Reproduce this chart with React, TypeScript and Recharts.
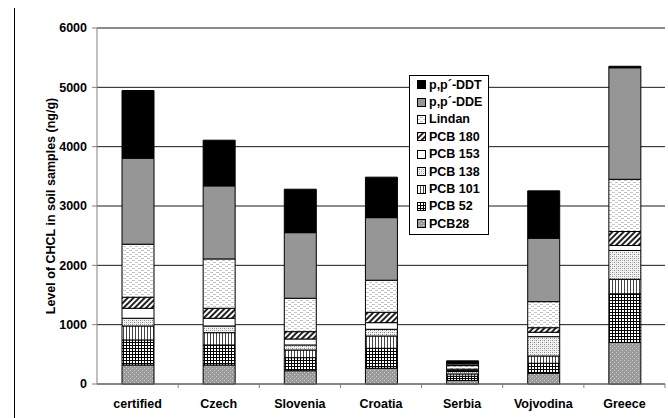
import { BarChart, Bar, XAxis, YAxis, CartesianGrid, Legend } from 'recharts'

const regions = ['certified', 'Czech', 'Slovenia', 'Croatia', 'Serbia', 'Vojvodina', 'Greece']

// ng/g per compound, stacked bottom to top
const pcb28 = [320, 320, 224, 265, 60, 180, 700]
const pcb52 = [422, 338, 220, 337, 70, 169, 820]
const pcb101 = [236, 207, 129, 207, 40, 123, 245]
const pcb138 = [130, 113, 85, 113, 40, 326, 485]
const pcb153 = [168, 130, 101, 112, 20, 74, 85]
const pcb180 = [186, 168, 123, 175, 20, 77, 235]
const lindan = [894, 832, 563, 540, 60, 439, 880]
const ppDDE = [1450, 1231, 1106, 1055, 30, 1069, 1880]
const ppDDT = [1140, 770, 732, 682, 50, 798, 25]

const yTicks = [0, 1000, 2000, 3000, 4000, 5000, 6000]
const yTitle = 'Level of CHCL in soil samples (ng/g)'

const series = [
  { key: 'pcb28', name: 'PCB28', values: pcb28, fill: 'url(#p-pcb28)' },
  { key: 'pcb52', name: 'PCB 52', values: pcb52, fill: 'url(#p-pcb52)' },
  { key: 'pcb101', name: 'PCB 101', values: pcb101, fill: 'url(#p-pcb101)' },
  { key: 'pcb138', name: 'PCB 138', values: pcb138, fill: 'url(#p-pcb138)' },
  { key: 'pcb153', name: 'PCB 153', values: pcb153, fill: '#ffffff' },
  { key: 'pcb180', name: 'PCB 180', values: pcb180, fill: 'url(#p-pcb180)' },
  { key: 'lindan', name: 'Lindan', values: lindan, fill: 'url(#p-lindan)' },
  { key: 'dde', name: 'p,p´-DDE', values: ppDDE, fill: '#969696' },
  { key: 'ddt', name: 'p,p´-DDT', values: ppDDT, fill: '#000000' },
]

const data = regions.map((region, i) => {
  const row: Record<string, string | number> = { region }
  series.forEach((s) => {
    row[s.key] = s.values[i]
  })
  return row
})

const W = 668
const H = 418
const AXIS_W = 97
const RIGHT = 3
const TOP = 28
const X_AXIS_H = 34
const HALF_BAND = (W - AXIS_W - RIGHT) / regions.length / 2
const FONT = "'Liberation Sans', Arial, sans-serif"

const CategoryTick = (props: any) => {
  const { x, y, payload } = props
  return (
    <g>
      <line x1={x + HALF_BAND} x2={x + HALF_BAND} y1={y - 6} y2={y - 2} stroke="#808080" />
      <text x={x} y={y} dy={18} textAnchor="middle" fontFamily={FONT} fontSize={12.5} fontWeight="bold" fill="#000">
        {payload.value}
      </text>
    </g>
  )
}

const LegendBox = () => (
  <div
    style={{
      border: '1px solid #000',
      background: '#fff',
      width: 78,
      paddingBottom: 1,
      fontFamily: FONT,
      fontSize: 12.5,
      fontWeight: 'bold',
      color: '#000',
    }}
  >
    {[...series].reverse().map((s) => (
      <div key={s.key} style={{ display: 'flex', alignItems: 'center', height: 17.4, paddingLeft: 7 }}>
        <svg width={9} height={9} style={{ marginRight: 3, display: 'block' }}>
          <rect x={0.5} y={0.5} width={8} height={8} fill={s.fill} stroke="#000" />
        </svg>
        <span style={{ whiteSpace: 'nowrap' }}>{s.name}</span>
      </div>
    ))}
  </div>
)

export default function App() {
  const plotMidY = TOP + (H - TOP - X_AXIS_H) / 2
  return (
    <div style={{ position: 'absolute', left: 0, top: 0, width: W, height: H, background: '#fff', overflow: 'hidden' }}>
      {/* page rule down the left edge */}
      <div style={{ position: 'absolute', left: 14, top: 8, width: 0, height: H - 8, borderLeft: '1px solid #000' }} />
      {/* rotated y-axis title */}
      <div
        style={{
          position: 'absolute',
          left: 51,
          top: plotMidY,
          transform: 'translate(-50%, -50%) rotate(-90deg)',
          whiteSpace: 'nowrap',
          fontFamily: FONT,
          fontSize: 12.5,
          fontWeight: 'bold',
          lineHeight: '14px',
          color: '#000',
        }}
      >
        {yTitle}
      </div>
      <div style={{ position: 'absolute', left: 0, top: 0 }}>
        <BarChart width={W} height={H} data={data} margin={{ top: TOP, right: RIGHT, left: 0, bottom: 0 }} barSize={32}>
          <defs>
            <pattern id="p-pcb28" width={4} height={4} patternUnits="userSpaceOnUse">
              <rect width={4} height={4} fill="#9a9a9a" />
              <rect x={0} y={0} width={1} height={1} fill="#cfcfcf" />
              <rect x={2} y={2} width={1} height={1} fill="#cfcfcf" />
            </pattern>
            <pattern id="p-pcb52" width={3} height={3} patternUnits="userSpaceOnUse">
              <rect width={3} height={3} fill="#ffffff" />
              <rect x={0} y={0} width={3} height={1} fill="#000" />
              <rect x={0} y={0} width={1} height={3} fill="#000" />
            </pattern>
            <pattern id="p-pcb101" width={3} height={3} patternUnits="userSpaceOnUse">
              <rect width={3} height={3} fill="#ffffff" />
              <rect x={0} y={0} width={1} height={3} fill="#444" />
            </pattern>
            <pattern id="p-pcb138" width={4} height={4} patternUnits="userSpaceOnUse">
              <rect width={4} height={4} fill="#f2f2f2" />
              <rect x={0} y={0} width={1} height={1} fill="#888" />
              <rect x={2} y={2} width={1} height={1} fill="#888" />
              <rect x={2} y={0} width={1} height={1} fill="#bbb" />
              <rect x={0} y={2} width={1} height={1} fill="#bbb" />
            </pattern>
            <pattern id="p-pcb180" width={4} height={4} patternUnits="userSpaceOnUse" patternTransform="rotate(45)">
              <rect width={4} height={4} fill="#ffffff" />
              <rect x={0} y={0} width={2} height={4} fill="#222" />
            </pattern>
            <pattern id="p-lindan" width={6} height={4} patternUnits="userSpaceOnUse">
              <rect width={6} height={4} fill="#ffffff" />
              <rect x={0} y={0} width={3} height={1} fill="#c4c4c4" />
              <rect x={3} y={2} width={3} height={1} fill="#c4c4c4" />
            </pattern>
          </defs>
          <CartesianGrid vertical={false} stroke="#1a1a1a" />
          <XAxis
            dataKey="region"
            height={X_AXIS_H}
            axisLine={{ stroke: '#808080' }}
            tickLine={false}
            tickSize={4}
            tickMargin={2}
            interval={0}
            tick={<CategoryTick />}
          />
          <YAxis
            width={AXIS_W}
            domain={[0, 6000]}
            ticks={yTicks}
            interval={0}
            axisLine={{ stroke: '#808080' }}
            tickLine={{ stroke: '#808080' }}
            tickSize={5}
            tickMargin={5}
            tick={{ fontFamily: FONT, fontSize: 12.5, fontWeight: 'bold', fill: '#000' }}
          />
          <Legend
            layout="vertical"
            align="center"
            verticalAlign="middle"
            wrapperStyle={{ left: 409, top: 75, width: 'auto', height: 'auto' }}
            content={<LegendBox />}
          />
          {series.map((s) => (
            <Bar
              key={s.key}
              dataKey={s.key}
              name={s.name}
              stackId="chcl"
              fill={s.fill}
              stroke="#000"
              strokeWidth={1}
              isAnimationActive={false}
            />
          ))}
        </BarChart>
      </div>
    </div>
  )
}
